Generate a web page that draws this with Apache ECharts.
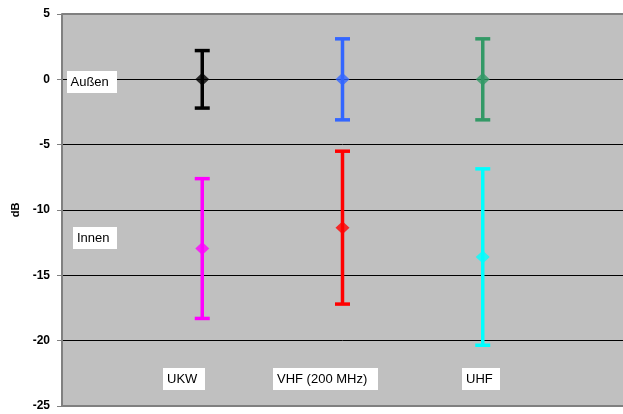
<!DOCTYPE html>
<html>
<head>
<meta charset="utf-8">
<script src="https://cdn.jsdelivr.net/npm/echarts@6/dist/echarts.min.js"></script>
<style>
  html, body { margin: 0; padding: 0; background: #fff; }
  #chart { width: 623px; height: 414px; }
</style>
</head>
<body>
<div id="chart"></div>
<script>
// Kategorien (x-Position 1, 2, 3)
var categories = ["UKW", "VHF (200 MHz)", "UHF"];
var catPos = [1, 2, 3];
// Außen: Mittelwert und Streuung (dB)
var aussenMean = [0, 0, 0];
var aussenErr = [2.2, 3.1, 3.1];
// Innen: Mittelwert und Streuung (dB)
var innenMean = [-12.95, -11.35, -13.6];
var innenErr = [5.35, 5.85, 6.75];
// Farben je Punkt
var aussenColors = ["#000000", "#3366ff", "#339966"];
var innenColors = ["#ff00ff", "#ff0000", "#00ffff"];
// Beschriftungen
var groupLabels = ["Außen", "Innen"];

var FONT = "Liberation Sans, Arial, sans-serif";

function buildData(means, errs, colors) {
  return catPos.map(function (x, i) {
    return { value: [x, means[i], means[i] + errs[i], means[i] - errs[i]], itemStyle: { color: colors[i] } };
  });
}

function errorBar(params, api) {
  var x = api.value(0);
  var hi = api.coord([x, api.value(2)]);
  var lo = api.coord([x, api.value(3)]);
  var color = api.visual("color");
  var half = 7.5;
  var style = { stroke: color, lineWidth: 3.5 };
  return {
    type: "group",
    children: [
      { type: "line", shape: { x1: hi[0], y1: hi[1], x2: lo[0], y2: lo[1] }, style: style },
      { type: "line", shape: { x1: hi[0] - half, y1: hi[1], x2: hi[0] + half, y2: hi[1] }, style: style },
      { type: "line", shape: { x1: lo[0] - half, y1: lo[1], x2: lo[0] + half, y2: lo[1] }, style: style }
    ]
  };
}

// weißes Textfeld: Kasten + Text
function box(text, x, y, w, tx) {
  return [
    { type: "rect", shape: { x: x, y: y, width: w, height: 22 }, style: { fill: "#fff" }, z: 10 },
    { type: "text", x: tx, y: y + 11, style: { text: text, font: "13px " + FONT, fill: "#000", verticalAlign: "middle" }, z: 11 }
  ];
}

var chart = echarts.init(document.getElementById("chart"));

chart.setOption({
  animation: false,
  grid: {
    left: 62,
    top: 14,
    width: 567,
    height: 392,
    show: true,
    backgroundColor: "#c0c0c0",
    borderWidth: 0
  },
  xAxis: {
    type: "value",
    min: 0,
    max: 4,
    axisLine: { show: true, onZero: false, lineStyle: { color: "#808080", width: 2 } },
    axisTick: { show: false },
    axisLabel: { show: false },
    splitLine: { show: false }
  },
  yAxis: {
    type: "value",
    min: -25,
    max: 5,
    interval: 5,
    name: "dB",
    nameLocation: "middle",
    nameGap: 38,
    nameRotate: 90,
    nameTextStyle: { fontFamily: FONT, fontSize: 11, fontWeight: "bold", color: "#000" },
    axisLine: { show: true, lineStyle: { color: "#808080", width: 2 } },
    axisTick: { show: true, length: 5, lineStyle: { color: "#808080", width: 1 } },
    axisLabel: {
      color: "#000",
      fontFamily: FONT,
      fontSize: 12,
      fontWeight: "bold",
      margin: 12
    },
    splitLine: { show: true, lineStyle: { color: "#000", width: 1 } }
  },
  graphic: [
    { type: "line", shape: { x1: 62, y1: 14, x2: 623, y2: 14 }, style: { stroke: "#808080", lineWidth: 2 }, z: 10 }
  ].concat(
    box(groupLabels[0], 67, 71, 50, 70.5),
    box(groupLabels[1], 73, 227, 44, 77),
    box(categories[0], 163, 368, 42, 167),
    box(categories[1], 273, 368, 105, 277),
    box(categories[2], 462, 368, 38, 466)
  ),
  series: [
    {
      name: "Außen Streuung",
      type: "custom",
      renderItem: errorBar,
      encode: { x: 0, y: [2, 3] },
      data: buildData(aussenMean, aussenErr, aussenColors),
      z: 3
    },
    {
      name: "Innen Streuung",
      type: "custom",
      renderItem: errorBar,
      encode: { x: 0, y: [2, 3] },
      data: buildData(innenMean, innenErr, innenColors),
      z: 3
    },
    {
      name: "Außen",
      type: "scatter",
      symbol: "diamond",
      symbolSize: [14, 13],
      data: buildData(aussenMean, aussenErr, aussenColors),
      z: 4
    },
    {
      name: "Innen",
      type: "scatter",
      symbol: "diamond",
      symbolSize: [14, 13],
      data: buildData(innenMean, innenErr, innenColors),
      z: 4
    }
  ]
});
</script>
</body>
</html>
